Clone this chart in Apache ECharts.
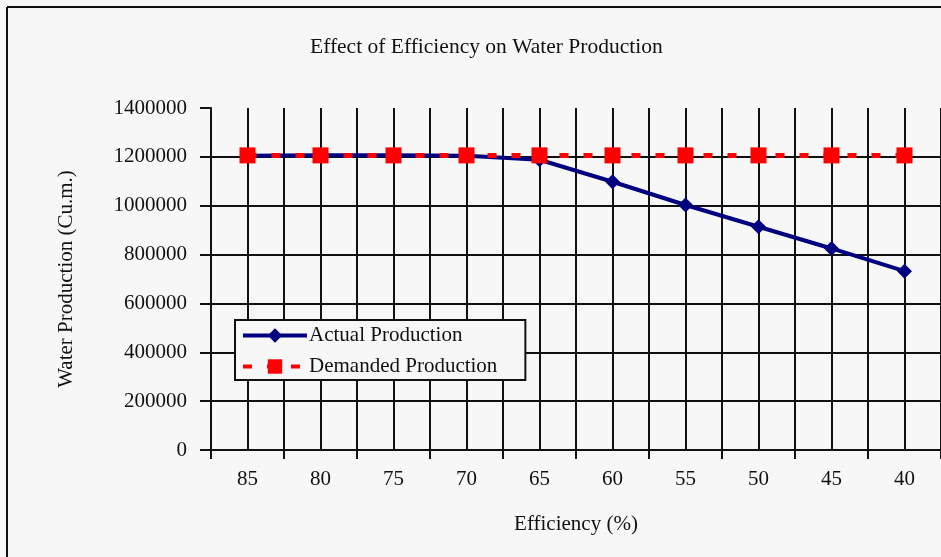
<!DOCTYPE html>
<html>
<head>
<meta charset="utf-8">
<script src="https://cdn.jsdelivr.net/npm/echarts@6/dist/echarts.min.js"></script>
<style>
  html, body { margin: 0; padding: 0; background: #f7f7f7; }
  #chart { width: 941px; height: 557px; }
</style>
</head>
<body>
<div id="chart"></div>
<script>
// values
const efficiency = ['85', '80', '75', '70', '65', '60', '55', '50', '45', '40'];
const actualProduction = [1205000, 1207000, 1207000, 1205000, 1188000, 1098000, 1003000, 914000, 825000, 732000];
const demandedProduction = [1206000, 1206000, 1206000, 1206000, 1206000, 1206000, 1206000, 1206000, 1206000, 1206000];

const serif = "'Liberation Serif', 'Times New Roman', serif";
const ink = '#111';

let myChart = echarts.init(document.getElementById('chart'));

let option = {
    backgroundColor: '#f7f7f7',
    animation: false,
    title: {
        text: 'Effect of Efficiency on Water Production',
        left: 305,
        top: 31,
        textStyle: { fontFamily: serif, fontSize: 21.5, fontWeight: 'normal', color: ink }
    },
    // outer chart border (top + left visible, rest cropped)
    graphic: [
        { type: 'line', shape: { x1: 7, y1: 7, x2: 941, y2: 7 }, style: { stroke: ink, lineWidth: 2 } },
        { type: 'line', shape: { x1: 7, y1: 7, x2: 7, y2: 557 }, style: { stroke: ink, lineWidth: 2 } }
    ],
    legend: {
        orient: 'vertical',
        left: 235,
        top: 320,
        padding: [5, 28, 3, 6],
        itemGap: 10,
        itemWidth: 64,
        itemHeight: 18,
        borderColor: ink,
        borderWidth: 2,
        backgroundColor: '#f7f7f7',
        lineStyle: { width: 4 },
        textStyle: { fontFamily: serif, fontSize: 21, color: ink, padding: [0, 0, 0, -3] },
        data: ['Actual Production', 'Demanded Production']
    },
    grid: { left: 211, right: -3, top: 108, bottom: 107, containLabel: false },
    xAxis: [{
        type: 'category',
        data: efficiency,
        boundaryGap: true,
        name: 'Efficiency (%)',
        nameLocation: 'middle',
        nameGap: 64,
        nameTextStyle: { fontFamily: serif, fontSize: 21, color: ink },
        axisLine: { lineStyle: { color: ink, width: 2 } },
        axisTick: { show: true, inside: false, length: 9, lineStyle: { color: ink, width: 2 } },
        axisLabel: { fontFamily: serif, fontSize: 21, color: ink, margin: 19 },
        splitLine: { show: false }
    }, {
        // helper axis only for the vertical grid lines at centres and boundaries
        type: 'value',
        position: 'bottom',
        min: 0,
        max: 20,
        interval: 1,
        axisLine: { show: false },
        axisTick: { show: false },
        axisLabel: { show: false },
        splitLine: { show: true, lineStyle: { color: ink, width: 2 } }
    }],
    yAxis: {
        type: 'value',
        min: 0,
        max: 1400000,
        interval: 200000,
        name: 'Water Production (Cu.m.)',
        nameLocation: 'middle',
        nameGap: 134,
        nameTextStyle: { fontFamily: serif, fontSize: 21, color: ink },
        axisLine: { show: true, lineStyle: { color: ink, width: 2 } },
        axisTick: { show: true, inside: false, length: 11, lineStyle: { color: ink, width: 2 } },
        axisLabel: { fontFamily: serif, fontSize: 21, color: ink, margin: 24, formatter: v => String(v) },
        splitLine: { show: true, showMaxLine: false, lineStyle: { color: ink, width: 2 } }
    },
    series: [{
        name: 'Actual Production',
        type: 'line',
        xAxisIndex: 0,
        data: actualProduction,
        symbol: 'diamond',
        symbolSize: 15,
        color: '#000080',
        lineStyle: { color: '#000080', width: 4 },
        itemStyle: { color: '#000080' }
    }, {
        name: 'Demanded Production',
        type: 'line',
        xAxisIndex: 0,
        data: demandedProduction,
        symbol: 'rect',
        symbolSize: 16,
        color: '#ff0000',
        lineStyle: { color: '#ff0000', width: 5, type: [9, 15] },
        itemStyle: { color: '#ff0000' }
    }]
};

myChart.setOption(option);
</script>
</body>
</html>
